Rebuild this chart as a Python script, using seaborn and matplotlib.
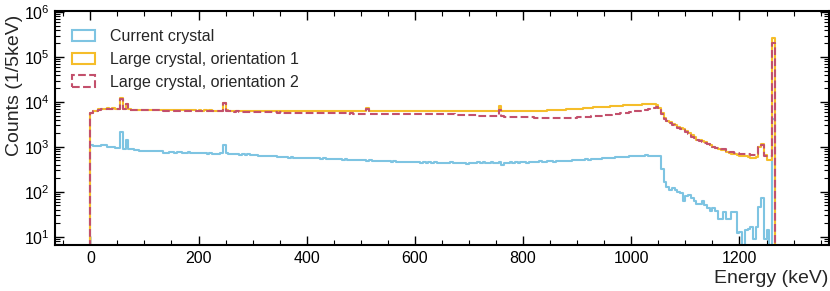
import numpy as np
import pandas as pd
import matplotlib
matplotlib.use("Agg")
import matplotlib.pyplot as plt
import seaborn as sns
from matplotlib.patches import Patch
from matplotlib.ticker import MultipleLocator, LogLocator, NullFormatter

# ---------------- data (counts per 5 keV bin, 0 .. 1300 keV) ----------------
bin_width = 5
e_min, e_max = 0, 1300

current = [
    1130, 1030, 1030, 1040, 1080, 1080, 990, 990, 980, 960,
    960, 2150, 920, 1400, 880, 880, 870, 860, 830, 830,
    810, 810, 800, 810, 815, 830, 800, 750, 750, 760,
    760, 750, 770, 760, 750, 745, 760, 750, 730, 720,
    720, 730, 720, 715, 720, 700, 715, 710, 720, 1130,
    740, 700, 690, 680, 690, 675, 680, 670, 680, 660,
    650, 655, 640, 630, 640, 630, 625, 635, 620, 610,
    600, 610, 590, 580, 590, 575, 580, 570, 580, 565,
    570, 560, 565, 555, 560, 550, 555, 545, 550, 540,
    540, 530, 535, 525, 530, 515, 520, 510, 505, 500,
    510, 500, 495, 500, 490, 495, 485, 490, 480, 485,
    480, 470, 475, 465, 470, 460, 465, 455, 470, 460,
    455, 460, 450, 465, 450, 455, 445, 460, 450, 440,
    450, 445, 440, 455, 445, 440, 450, 435, 445, 420,
    445, 450, 440, 455, 445, 460, 450, 445, 455, 450,
    440, 455, 405, 450, 445, 455, 450, 460, 445, 455,
    460, 450, 465, 455, 470, 460, 480, 470, 465, 475,
    480, 470, 485, 480, 490, 485, 495, 490, 500, 505,
    510, 520, 515, 530, 525, 540, 535, 550, 545, 560,
    565, 560, 575, 580, 590, 585, 600, 610, 605, 620,
    625, 630, 620, 640, 635, 650, 640, 645, 640, 640,
    640, 320, 170, 130, 110, 120, 110, 100, 95, 63,
    81, 85, 73, 63, 55, 55, 63, 52, 44, 38,
    44, 37, 25, 25, 35, 25, 25, 35, 35, 12,
    13, 0, 14, 15, 16.5, 9, 16.5, 46, 73, 9,
    14, 0, 4200, 0, 0, 0, 0, 0, 0, 0,
]

large_o1 = [
    5600, 6300, 6400, 6900, 7000, 7100, 7200, 7100, 7250, 7100,
    7000, 12000, 7000, 9000, 6900, 6800, 6800, 6700, 6800, 6700,
    6700, 6650, 6700, 6600, 6650, 6600, 6650, 6600, 6550, 6600,
    6550, 6600, 6550, 6500, 6550, 6500, 6550, 6500, 6500, 6450,
    6500, 6450, 6500, 6450, 6500, 6450, 6400, 6450, 6400, 9600,
    6500, 6450, 6400, 6450, 6400, 6400, 6350, 6400, 6350, 6400,
    6400, 6350, 6400, 6350, 6400, 6350, 6400, 6350, 6350, 6400,
    6400, 6350, 6400, 6350, 6350, 6400, 6350, 6350, 6300, 6350,
    6350, 6300, 6350, 6300, 6350, 6300, 6300, 6350, 6300, 6300,
    6300, 6350, 6300, 6300, 6350, 6300, 6300, 6350, 6300, 6350,
    6300, 6350, 7300, 6300, 6350, 6300, 6350, 6300, 6350, 6300,
    6350, 6300, 6350, 6300, 6350, 6300, 6300, 6350, 6300, 6350,
    6300, 6350, 6300, 6300, 6250, 6300, 6250, 6300, 6250, 6300,
    6250, 6300, 6300, 6250, 6300, 6300, 6250, 6300, 6300, 6250,
    6300, 6300, 6250, 6300, 6300, 6350, 6300, 6300, 6350, 6300,
    6350, 8200, 6300, 6350, 6350, 6300, 6350, 6350, 6300, 6350,
    6350, 6400, 6350, 6400, 6400, 6450, 6400, 6450, 6450, 6500,
    6550, 6600, 6650, 6700, 6750, 6800, 6850, 6900, 6950, 7000,
    7100, 7150, 7250, 7300, 7400, 7450, 7550, 7600, 7700, 7750,
    7850, 7900, 8000, 8100, 8150, 8250, 8300, 8400, 8450, 8550,
    8600, 8650, 8700, 8750, 8800, 8850, 8900, 8950, 8900, 8600,
    7200, 5600, 4300, 3800, 3500, 3200, 3100, 2800, 2700, 2500,
    2300, 2000, 1800, 1650, 1450, 1430, 1350, 1300, 1180, 1120,
    1000, 960, 920, 870, 850, 760, 740, 700, 690, 660,
    620, 620, 615, 590, 570, 575, 600, 1000, 1170, 660,
    510, 510, 270000, 0, 0, 0, 0, 0, 0, 0,
]

large_o2 = [
    5600, 6200, 6300, 6800, 6900, 7000, 7100, 7000, 7150, 7000,
    6900, 11500, 6900, 8800, 6800, 6700, 6700, 6600, 6650, 6600,
    6600, 6550, 6600, 6500, 6550, 6500, 6500, 6450, 6450, 6450,
    6400, 6450, 6400, 6350, 6400, 6350, 6350, 6300, 6350, 6300,
    6300, 6250, 6300, 6250, 6250, 6200, 6250, 6200, 6200, 9300,
    6200, 6150, 6150, 6100, 6150, 6100, 6100, 6050, 6100, 6050,
    5950, 5900, 5950, 5900, 5900, 5850, 5900, 5850, 5850, 5800,
    5850, 5800, 5800, 5750, 5800, 5750, 5750, 5700, 5750, 5700,
    5700, 5700, 5650, 5700, 5650, 5650, 5600, 5650, 5600, 5600,
    5600, 5550, 5600, 5550, 5550, 5500, 5550, 5500, 5500, 5500,
    5500, 5500, 6900, 5450, 5500, 5450, 5450, 5400, 5450, 5400,
    5450, 5400, 5450, 5400, 5400, 5400, 5450, 5400, 5400, 5450,
    5400, 5450, 5400, 5400, 5450, 5400, 5400, 5450, 5400, 5400,
    5400, 5350, 5350, 5300, 5300, 5250, 5250, 5200, 5200, 5150,
    5100, 5100, 5050, 5000, 5000, 4950, 4950, 4900, 4900, 4850,
    4850, 6600, 4800, 4750, 4750, 4700, 4700, 4650, 4650, 4600,
    4600, 4600, 4550, 4550, 4500, 4500, 4500, 4450, 4450, 4450,
    4400, 4400, 4400, 4400, 4400, 4400, 4450, 4450, 4500, 4500,
    4550, 4600, 4650, 4700, 4750, 4800, 4850, 4900, 4950, 5000,
    5100, 5150, 5250, 5300, 5400, 5500, 5600, 5700, 5800, 5900,
    6000, 6150, 6300, 6450, 6600, 6800, 7000, 7200, 7450, 7700,
    7000, 5400, 4200, 3700, 3400, 3100, 2950, 2700, 2550, 2350,
    2150, 1900, 1700, 1550, 1400, 1380, 1320, 1250, 1150, 1100,
    1000, 960, 930, 900, 880, 800, 790, 760, 750, 720,
    700, 700, 710, 680, 670, 670, 690, 980, 1100, 640,
    620, 620, 205000, 0, 0, 0, 0, 0, 0, 0,
]

labels = ["Current crystal", "Large crystal, orientation 1", "Large crystal, orientation 2"]
colors = ["#7ec4e2", "#f5bd2a", "#c3506c"]
styles = ["-", "-", "--"]

# ---------------- figure ----------------
sns.set_theme(style="ticks")
plt.rcParams["font.family"] = ["Liberation Sans", "DejaVu Sans"]
plt.rcParams["mathtext.fontset"] = "custom"
plt.rcParams["mathtext.rm"] = "Liberation Sans"
plt.rcParams["mathtext.it"] = "Liberation Sans:italic"
plt.rcParams["mathtext.bf"] = "Liberation Sans:bold"

fig = plt.figure(figsize=(8.30, 2.91), dpi=100)
ax = fig.add_axes([0.0665, 0.158, 0.932, 0.804])

n_bins = len(current) + 1
centers = e_min - bin_width / 2 + bin_width * np.arange(n_bins)

for series, lab, col, ls in zip([current, large_o1, large_o2], labels, colors, styles):
    w = np.concatenate([[0.0], np.asarray(series, dtype=float)])
    df = pd.DataFrame({"energy": centers, "counts": w})
    sns.histplot(data=df, x="energy", weights="counts", binwidth=bin_width,
                 binrange=(e_min - bin_width, e_max),
                 element="step", fill=False, color=col, linewidth=1.5,
                 linestyle=ls, ax=ax)

ax.set_yscale("log")
ax.set_xlim(-65, 1365)
ax.set_ylim(6.6, 1.05e6)

ax.xaxis.set_major_locator(MultipleLocator(200))
ax.xaxis.set_minor_locator(MultipleLocator(50))
ax.yaxis.set_major_locator(LogLocator(base=10, numticks=20))
ax.yaxis.set_minor_locator(LogLocator(base=10, subs=np.arange(2, 10) * 1.0, numticks=20))
ax.yaxis.set_minor_formatter(NullFormatter())

ax.tick_params(which="both", direction="in", top=True, right=True, colors="black",
               labelsize=11.5)
ax.tick_params(which="major", length=6.5, width=1.0, pad=4)
ax.tick_params(which="minor", length=3.5, width=0.8)
for sp in ax.spines.values():
    sp.set_linewidth(1.5)
    sp.set_color("black")

ax.set_xlabel("Energy (keV)", fontsize=14, loc="right", labelpad=3)
ax.set_ylabel("Counts (1/5keV)", fontsize=14, loc="top")
ax.yaxis.set_label_coords(-0.042, 0.983)

handles = [Patch(facecolor="none", edgecolor=c, linestyle=s, linewidth=1.5, label=l)
           for c, s, l in zip(colors, styles, labels)]
ax.legend(handles=handles, loc="upper left", bbox_to_anchor=(0.0134, 0.951),
          borderaxespad=0, frameon=False, fontsize=11.5,
          handlelength=1.45, handleheight=0.7, labelspacing=0.49,
          handletextpad=0.95)

fig.savefig("out.png", dpi=100)
